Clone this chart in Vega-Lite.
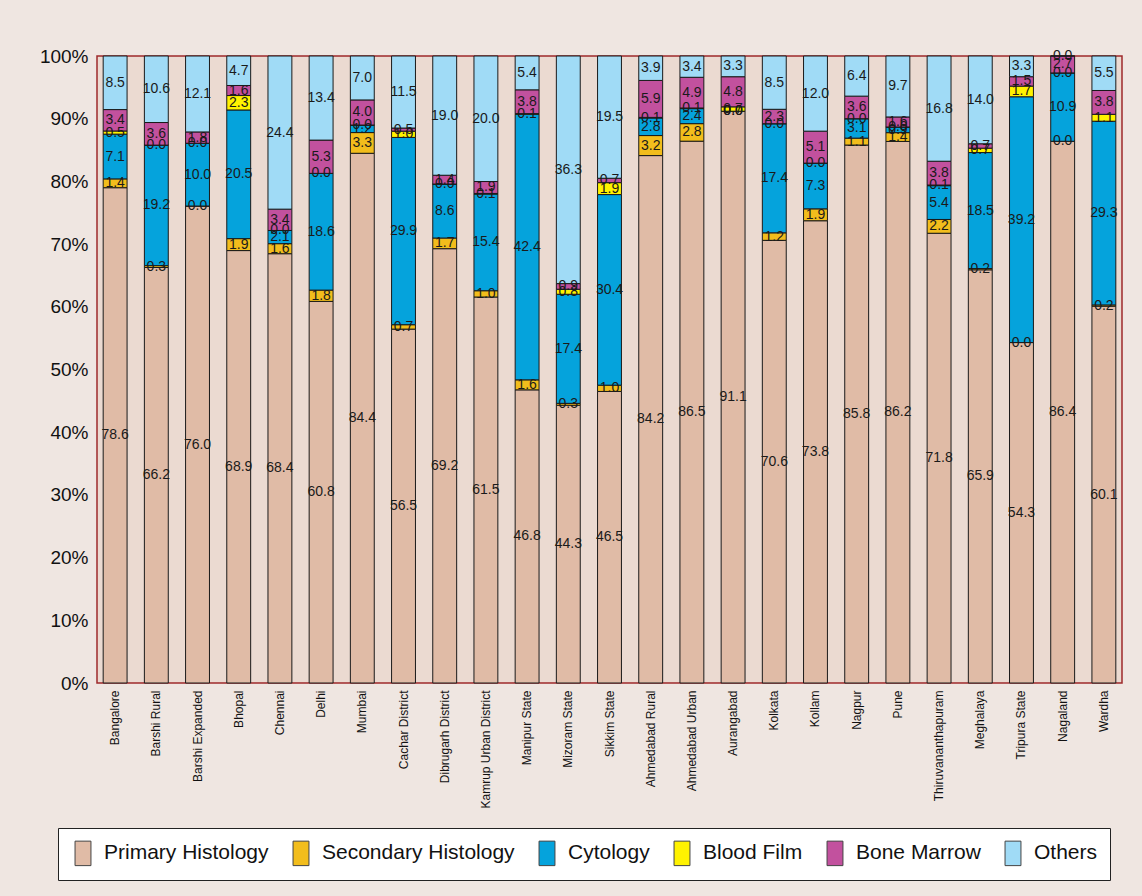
{
  "$schema": "https://vega.github.io/schema/vega-lite/v6.json",
  "width": 1025,
  "height": 627,
  "autosize": {"type": "none"},
  "padding": {"left": 97, "top": 56, "right": 20, "bottom": 213},
  "background": "#efe6e1",
  "config": {
    "view": {"fill": "#ebdad1", "stroke": "#9e2a2b", "strokeWidth": 1.5},
    "font": "Liberation Sans"
  },
  "data": {
    "values": [
      {"site": "Bangalore", "Primary Histology": 78.6, "Secondary Histology": 1.4, "Cytology": 7.1, "Blood Film": 0.5, "Bone Marrow": 3.4, "Others": 8.5},
      {"site": "Barshi Rural", "Primary Histology": 66.2, "Secondary Histology": 0.3, "Cytology": 19.2, "Blood Film": 0.0, "Bone Marrow": 3.6, "Others": 10.6},
      {"site": "Barshi Expanded", "Primary Histology": 76.0, "Secondary Histology": 0.0, "Cytology": 10.0, "Blood Film": 0.0, "Bone Marrow": 1.8, "Others": 12.1},
      {"site": "Bhopal", "Primary Histology": 68.9, "Secondary Histology": 1.9, "Cytology": 20.5, "Blood Film": 2.3, "Bone Marrow": 1.6, "Others": 4.7},
      {"site": "Chennai", "Primary Histology": 68.4, "Secondary Histology": 1.6, "Cytology": 2.1, "Blood Film": 0.0, "Bone Marrow": 3.4, "Others": 24.4},
      {"site": "Delhi", "Primary Histology": 60.8, "Secondary Histology": 1.8, "Cytology": 18.6, "Blood Film": 0.0, "Bone Marrow": 5.3, "Others": 13.4},
      {"site": "Mumbai", "Primary Histology": 84.4, "Secondary Histology": 3.3, "Cytology": 1.2, "Blood Film": 0.0, "Bone Marrow": 4.0, "Others": 7.0},
      {"site": "Cachar District", "Primary Histology": 56.5, "Secondary Histology": 0.7, "Cytology": 29.9, "Blood Film": 1.0, "Bone Marrow": 0.5, "Others": 11.5},
      {"site": "Dibrugarh District", "Primary Histology": 69.2, "Secondary Histology": 1.7, "Cytology": 8.6, "Blood Film": 0.0, "Bone Marrow": 1.4, "Others": 19.0},
      {"site": "Kamrup Urban District", "Primary Histology": 61.5, "Secondary Histology": 1.0, "Cytology": 15.4, "Blood Film": 0.1, "Bone Marrow": 1.9, "Others": 20.0},
      {"site": "Manipur State", "Primary Histology": 46.8, "Secondary Histology": 1.6, "Cytology": 42.4, "Blood Film": 0.1, "Bone Marrow": 3.8, "Others": 5.4},
      {"site": "Mizoram State", "Primary Histology": 44.3, "Secondary Histology": 0.3, "Cytology": 17.4, "Blood Film": 0.8, "Bone Marrow": 0.9, "Others": 36.3},
      {"site": "Sikkim State", "Primary Histology": 46.5, "Secondary Histology": 1.0, "Cytology": 30.4, "Blood Film": 1.9, "Bone Marrow": 0.7, "Others": 19.5},
      {"site": "Ahmedabad  Rural", "Primary Histology": 84.2, "Secondary Histology": 3.2, "Cytology": 2.8, "Blood Film": 0.1, "Bone Marrow": 5.9, "Others": 3.9},
      {"site": "Ahmedabad  Urban", "Primary Histology": 86.5, "Secondary Histology": 2.8, "Cytology": 2.4, "Blood Film": 0.1, "Bone Marrow": 4.9, "Others": 3.4},
      {"site": "Aurangabad", "Primary Histology": 91.1, "Secondary Histology": 0.0, "Cytology": 0.0, "Blood Film": 0.7, "Bone Marrow": 4.8, "Others": 3.3},
      {"site": "Kolkata", "Primary Histology": 70.6, "Secondary Histology": 1.2, "Cytology": 17.4, "Blood Film": 0.0, "Bone Marrow": 2.3, "Others": 8.5},
      {"site": "Kollam", "Primary Histology": 73.8, "Secondary Histology": 1.9, "Cytology": 7.3, "Blood Film": 0.0, "Bone Marrow": 5.1, "Others": 12.0},
      {"site": "Nagpur", "Primary Histology": 85.8, "Secondary Histology": 1.1, "Cytology": 3.1, "Blood Film": 0.0, "Bone Marrow": 3.6, "Others": 6.4},
      {"site": "Pune", "Primary Histology": 86.2, "Secondary Histology": 1.4, "Cytology": 0.9, "Blood Film": 0.0, "Bone Marrow": 1.6, "Others": 9.7},
      {"site": "Thiruvananthapuram", "Primary Histology": 71.8, "Secondary Histology": 2.2, "Cytology": 5.4, "Blood Film": 0.1, "Bone Marrow": 3.8, "Others": 16.8},
      {"site": "Meghalaya", "Primary Histology": 65.9, "Secondary Histology": 0.2, "Cytology": 18.5, "Blood Film": 0.7, "Bone Marrow": 0.7, "Others": 14.0},
      {"site": "Tripura State", "Primary Histology": 54.3, "Secondary Histology": 0.0, "Cytology": 39.2, "Blood Film": 1.7, "Bone Marrow": 1.5, "Others": 3.3},
      {"site": "Nagaland", "Primary Histology": 86.4, "Secondary Histology": 0.0, "Cytology": 10.9, "Blood Film": 0.0, "Bone Marrow": 2.7, "Others": 0.0},
      {"site": "Wardha", "Primary Histology": 60.1, "Secondary Histology": 0.2, "Cytology": 29.3, "Blood Film": 1.1, "Bone Marrow": 3.8, "Others": 5.5}
    ]
  },
  "transform": [
    {"fold": ["Primary Histology", "Secondary Histology", "Cytology", "Blood Film", "Bone Marrow", "Others"], "as": ["cat", "v"]},
    {"calculate": "indexof(['Primary Histology','Secondary Histology','Cytology','Blood Film','Bone Marrow','Others'], datum.cat)", "as": "ord"},
    {"stack": "v", "groupby": ["site"], "sort": [{"field": "ord", "order": "ascending"}], "offset": "normalize", "as": ["y0", "y1"]},
    {"calculate": "(datum.y0 + datum.y1) / 2", "as": "ym"}
  ],
  "encoding": {
    "x": {
      "field": "site",
      "type": "nominal",
      "sort": null,
      "scale": {"paddingInner": 0.42, "paddingOuter": 0.15},
      "axis": {"title": null, "labelAngle": 270, "labelFontSize": 12, "labelColor": "#111", "ticks": false, "domain": false, "labelPadding": 7, "labelLimit": 200}
    }
  },
  "layer": [
    {
      "mark": {"type": "bar", "stroke": "#1a1a1a", "strokeWidth": 1},
      "encoding": {
        "y": {
          "field": "y0",
          "type": "quantitative",
          "scale": {"domain": [0, 1], "nice": false},
          "axis": {"title": null, "format": "%", "values": [0, 0.1, 0.2, 0.3, 0.4, 0.5, 0.6, 0.7, 0.8, 0.9, 1], "labelFontSize": 19, "labelColor": "#111", "ticks": false, "domain": false, "grid": false, "labelPadding": 9}
        },
        "y2": {"field": "y1"},
        "color": {
          "field": "cat",
          "type": "nominal",
          "scale": {
            "domain": ["Primary Histology", "Secondary Histology", "Cytology", "Blood Film", "Bone Marrow", "Others"],
            "range": ["#e0bba6", "#f2bd1c", "#05a3dc", "#fff200", "#c2519e", "#a0dbf6"]
          },
          "legend": {
            "title": null,
            "orient": "none",
            "legendX": -39,
            "legendY": 772,
            "direction": "horizontal",
            "fillColor": "#ffffff",
            "strokeColor": "#222222",
            "padding": 12,
            "symbolType": "M-0.65,-1L0.65,-1L0.65,1L-0.65,1Z",
            "symbolSize": 600,
            "symbolStrokeColor": "#444",
            "symbolStrokeWidth": 1,
            "symbolOpacity": 1,
            "labelFont": "Liberation Sans",
            "labelFontSize": 21,
            "labelColor": "#111",
            "labelLimit": 300,
            "labelOffset": 8,
            "columnPadding": 19
          }
        }
      }
    },
    {
      "mark": {"type": "text", "font": "Liberation Sans", "fontSize": 14, "color": "#1a1a1a", "baseline": "middle"},
      "encoding": {
        "y": {"field": "ym", "type": "quantitative"},
        "text": {"field": "v", "type": "quantitative", "format": ".1f"}
      }
    }
  ]
}
